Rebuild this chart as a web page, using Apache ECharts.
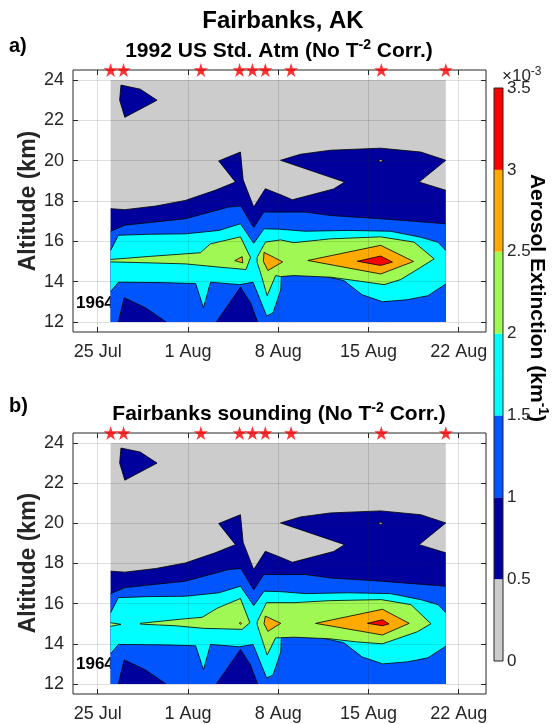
<!DOCTYPE html>
<html>
<head>
<meta charset="utf-8">
<script src="https://cdn.jsdelivr.net/npm/echarts@6/dist/echarts.min.js"></script>
<style>
html, body { margin: 0; padding: 0; background: #fff; }
#chart { width: 553px; height: 724px; }
</style>
</head>
<body>
<div id="chart"></div>
<script>
var chart = echarts.init(document.getElementById('chart'));

// dates are counted as days of July (32 = 1 Aug)
var dateTicks = [25, 32, 39, 46, 53];
var dateLabels = ['25 Jul', '1 Aug', '8 Aug', '15 Aug', '22 Aug'];
var altTicks = [12, 14, 16, 18, 20, 22, 24];
var obsDays = [26, 27, 33, 36, 37, 38, 40, 47, 52];
var levels = [0, 0.5, 1, 1.5, 2, 2.5, 3, 3.5];
var levelColors = ['#cccccc', '#00009c', '#0055ff', '#00ffff', '#a0f852', '#ffaa00', '#ff0000'];
var dayRange = [26, 52];
var altRange = [12, 24];

// contour regions: [day, km]
var grayBox = [[26, 12], [26, 24], [52, 24], [52, 12]];
var darkCap = [[26.7, 23.0], [26.8, 23.75], [28.3, 23.55], [29.6, 23.0], [27.1, 22.15]];
var darkMain = [[26, 12], [26, 17.62], [27.1, 17.57], [29.5, 17.75], [31.8, 18.03], [34.1, 18.53], [35.68, 18.94],
  [34.38, 19.99], [36.07, 20.43], [36.28, 19.05], [37.1, 17.7], [38.0, 18.61], [39.3, 18.28], [40.1, 18.06],
  [43.3, 18.6], [44.15, 18.94], [39.18, 20.02], [40.73, 20.32], [43.06, 20.52], [46.95, 20.62], [50.06, 20.43],
  [52, 20.02], [49.93, 18.94], [52, 18.53], [52, 12]];
var darkHole = [[46.75, 20.0], [46.95, 20.06], [47.15, 20.0], [46.95, 19.94]];
var blueBand = [[26, 12], [26.6, 12], [27.05, 13.2], [28.7, 12.7], [30.3, 12], [34.2, 12], [36.07, 13.72],
  [36.85, 12.95], [37.4, 12], [52, 12], [52, 16.87], [46.95, 17.12], [43.06, 17.28], [41.1, 17.45], [37.88, 17.45],
  [37.1, 16.68], [36.1, 17.75], [35.16, 17.7], [31.8, 17.12], [27.1, 16.8], [26, 16.5]];
var cyanBand = [[26, 15.55], [26.6, 16.3], [29, 16.35], [31.8, 16.37], [34.4, 16.54], [36.07, 16.87], [37.1, 15.9],
  [37.9, 16.62], [39.1, 16.6], [41.1, 16.5], [44.4, 16.54], [47.7, 16.5], [50.06, 16.2], [51.4, 15.95], [52, 15.55],
  [52, 13.88], [50.6, 13.3], [49, 13.1], [47.1, 13.0], [45.5, 13.35], [44.1, 14.05], [42, 14.35], [39.25, 14.38],
  [39.2, 13.6], [38.6, 12.45], [38.1, 12.3], [37.05, 13.97], [36.0, 13.85], [33.75, 13.97], [33.2, 12.7],
  [32.6, 13.9], [30, 13.95], [26.6, 13.97], [26, 13.5]];

// panel a
var greenWestA = [[26, 15.1], [29, 15.25], [31.8, 15.38], [32.96, 15.43], [33.73, 15.87], [36.07, 16.22], [36.85, 15.2],
  [36.5, 14.6], [34.4, 14.72], [31.8, 14.88], [29, 14.93], [26, 14.98]];
var greenEastA = [[37.36, 15.2], [38.01, 15.96], [39.18, 16.07], [40.2, 15.93], [43, 16.12], [46.95, 16.22],
  [49.54, 15.96], [51.1, 15.13], [50.06, 14.71], [48.5, 14.1], [47.21, 13.85], [45, 14.05], [43.06, 14.22],
  [40.21, 14.3], [39.2, 14.25], [38.8, 14.3], [38.14, 13.3], [37.6, 14.5], [37.36, 14.96]];
var orangeWestA = [[35.63, 15.04], [36.2, 15.24], [36.25, 14.93]];
var orangeMidA = [[37.9, 15.45], [39.35, 14.98], [38.2, 14.55], [37.85, 15.0]];
var orangeEastA = [[41.3, 15.05], [46.95, 15.8], [49.5, 15.0], [46.95, 14.38]];
var redA = [[45.14, 15.01], [46.95, 15.27], [47.86, 14.97], [46.95, 14.8]];

// panel b
var greenTipB = [[26, 15.05], [26.8, 14.97], [26, 14.87]];
var greenWestB = [[28.3, 15.02], [31.8, 15.25], [33.1, 15.32], [34.26, 15.77], [36.07, 16.26], [36.8, 15.05],
  [36.2, 14.72], [33.22, 14.77], [31, 14.9], [28.3, 14.98]];
var greenEastB = [[37.37, 15.1], [38.09, 16.05], [40.22, 16.05], [43, 16.15], [47, 16.2], [49.3, 15.95], [50.85, 15.0],
  [49.8, 14.6], [47.09, 14.0], [45, 14.1], [43, 14.25], [40.22, 14.33], [39.2, 14.3], [38.8, 14.3], [38.14, 13.44],
  [37.6, 14.5], [37.37, 14.95]];
var orangeDotB = [[35.98, 15.03], [36.08, 15.07], [36.16, 15.01], [36.06, 14.97]];
var orangeMidB = [[38.0, 15.38], [39.2, 15.02], [38.2, 14.62], [37.9, 15.0]];
var orangeEastB = [[41.9, 15.02], [47.09, 15.72], [49.16, 15.02], [47.09, 14.44]];
var redB = [[45.92, 15.02], [47.09, 15.2], [47.6, 14.99], [47.09, 14.9]];

var layersA = [[0, grayBox], [1, darkCap], [1, darkMain], [0, darkHole], [2, blueBand], [3, cyanBand],
  [4, greenWestA], [4, greenEastA], [5, orangeWestA], [5, orangeMidA], [5, orangeEastA], [6, redA]];
var layersB = [[0, grayBox], [1, darkCap], [1, darkMain], [0, darkHole], [2, blueBand], [3, cyanBand],
  [4, greenTipB], [4, greenWestB], [4, greenEastB], [5, orangeDotB], [5, orangeMidB], [5, orangeEastB], [6, redB]];

var FONT = 'Liberation Sans, Arial, sans-serif';
var INK = '#262626';

function onEdge(a, b) {
  if (a[0] === b[0] && (a[0] === dayRange[0] || a[0] === dayRange[1])) return true;
  if (a[1] === b[1] && (a[1] === altRange[0] || a[1] === altRange[1])) return true;
  return false;
}

function contourRender(layers) {
  return function (params, api) {
    var layer = layers[params.dataIndex];
    var poly = layer[1];
    var pts = poly.map(function (p) { return api.coord(p); });
    var children = [{
      type: 'polygon',
      shape: { points: pts },
      style: { fill: levelColors[layer[0]], stroke: null }
    }];
    // contour lines, but not along the edge of the data
    var runs = [], run = [];
    for (var i = 0; i < poly.length; i++) {
      var j = (i + 1) % poly.length;
      if (onEdge(poly[i], poly[j])) {
        if (run.length > 1) runs.push(run);
        run = [];
        continue;
      }
      if (!run.length) run.push(pts[i]);
      run.push(pts[j]);
    }
    if (run.length > 1) runs.push(run);
    runs.forEach(function (r) {
      children.push({
        type: 'polyline',
        shape: { points: r },
        style: { fill: null, stroke: '#000', lineWidth: 0.8, lineJoin: 'round' }
      });
    });
    return { type: 'group', children: children };
  };
}

function dateAxis(grid, pos) {
  return {
    type: 'value', gridIndex: grid, position: pos, min: 23.08, max: 55.12, z: 3,
    axisLine: { show: false },
    axisTick: { show: true, inside: true, length: 5, customValues: dateTicks, lineStyle: { color: INK } },
    axisLabel: {
      show: pos === 'bottom', customValues: dateTicks, margin: 11,
      color: INK, fontSize: 18, fontFamily: FONT,
      formatter: function (v) { return dateLabels[dateTicks.indexOf(v)]; }
    },
    splitLine: { show: pos === 'bottom', lineStyle: { color: 'rgba(38,38,38,0.15)', width: 1 } }
  };
}

function altAxis(grid, pos) {
  return {
    type: 'value', gridIndex: grid, position: pos, min: 11.5, max: 24.5, z: 3,
    axisLine: { show: false },
    axisTick: { show: true, inside: true, length: 5, customValues: altTicks, lineStyle: { color: INK } },
    axisLabel: { show: pos === 'left', customValues: altTicks, margin: 9, color: INK, fontSize: 18, fontFamily: FONT },
    splitLine: { show: pos === 'left', lineStyle: { color: 'rgba(38,38,38,0.15)', width: 1 } }
  };
}

var starPath = 'path://M50,0 L61.2,34.5 L97.6,34.5 L68.2,55.9 L79.4,90.5 L50,69.1 L20.6,90.5 L31.8,55.9 L2.4,34.5 L38.8,34.5 Z';

function starSeries(xi, yi) {
  return {
    type: 'scatter', xAxisIndex: xi, yAxisIndex: yi, z: 5, clip: false,
    symbol: starPath, symbolSize: 14,
    itemStyle: { color: '#ff0000' },
    data: obsDays.map(function (d) { return [d, 24.5]; })
  };
}

function contourSeries(xi, yi, layers) {
  return {
    type: 'custom', xAxisIndex: xi, yAxisIndex: yi, z: 2,
    renderItem: contourRender(layers),
    data: layers.map(function (l) { return l[1][0]; })
  };
}

function titleText(x, y, main, tail) {
  return {
    type: 'text', x: x, y: y,
    style: {
      text: '{m|' + main + '}{s|-2}{m|' + tail + '}',
      align: 'center', verticalAlign: 'middle',
      rich: {
        m: { fontSize: 21, fontWeight: 'bold', fontFamily: FONT, fill: '#000', lineHeight: 26 },
        s: { fontSize: 14, fontWeight: 'bold', fontFamily: FONT, fill: '#000', lineHeight: 14, verticalAlign: 'top' }
      }
    }
  };
}

function plainText(x, y, text, size) {
  return {
    type: 'text', x: x, y: y,
    style: { text: text, fontSize: size, fontWeight: 'bold', fontFamily: FONT, fill: '#000', align: 'left', verticalAlign: 'middle' }
  };
}

function sideLabel(y) {
  return {
    type: 'text', x: 29, y: y, rotation: Math.PI / 2,
    style: { text: 'Altitude (km)', fontSize: 23, fontWeight: 'bold', fontFamily: FONT, fill: INK, align: 'center', verticalAlign: 'middle' }
  };
}

var option = {
  animation: false,
  backgroundColor: '#fff',
  grid: [
    { left: 73, top: 70, width: 413, height: 262, show: true, borderColor: INK, borderWidth: 1, z: 4 },
    { left: 73, top: 433, width: 413, height: 261, show: true, borderColor: INK, borderWidth: 1, z: 4 },
    { left: 494, top: 88, width: 9, height: 573, show: true, borderColor: INK, borderWidth: 1, z: 4 }
  ],
  xAxis: [
    dateAxis(0, 'bottom'), dateAxis(0, 'top'), dateAxis(1, 'bottom'), dateAxis(1, 'top'),
    { type: 'value', gridIndex: 2, min: 0, max: 1, show: false }
  ],
  yAxis: [
    altAxis(0, 'left'), altAxis(0, 'right'), altAxis(1, 'left'), altAxis(1, 'right'),
    {
      type: 'value', gridIndex: 2, position: 'right', min: 0, max: 3.5, interval: 0.5,
      axisLine: { show: false }, axisTick: { show: false }, splitLine: { show: false },
      axisLabel: { margin: 4, color: INK, fontSize: 17, fontFamily: FONT }
    }
  ],
  series: [
    contourSeries(0, 0, layersA),
    starSeries(0, 0),
    contourSeries(2, 2, layersB),
    starSeries(2, 2),
    {
      type: 'custom', xAxisIndex: 4, yAxisIndex: 4,
      data: levelColors.map(function (c, i) { return [0, levels[i]]; }),
      renderItem: function (params, api) {
        var i = params.dataIndex;
        var p0 = api.coord([0, levels[i]]);
        var p1 = api.coord([1, levels[i + 1]]);
        return {
          type: 'rect',
          shape: { x: p0[0], y: p1[1], width: p1[0] - p0[0], height: p0[1] - p1[1] },
          style: { fill: levelColors[i] }
        };
      }
    }
  ],
  graphic: {
    elements: [
      { type: 'text', x: 283, y: 21, style: { text: 'Fairbanks, AK', fontSize: 24, fontWeight: 'bold', fontFamily: FONT, fill: '#000', align: 'center', verticalAlign: 'middle' } },
      plainText(9, 46, 'a)', 20),
      plainText(9, 406, 'b)', 20),
      titleText(279, 51, '1992 US Std. Atm (No T', ' Corr.)'),
      titleText(279, 414, 'Fairbanks sounding (No T', ' Corr.)'),
      plainText(76, 303, '1964', 17),
      plainText(76, 664, '1964', 17),
      sideLabel(201),
      sideLabel(563),
      {
        type: 'text', x: 502, y: 76,
        style: {
          text: '{m|\u00d710}{s|-3}', align: 'left', verticalAlign: 'middle',
          rich: {
            m: { fontSize: 17, fontFamily: FONT, fill: INK, lineHeight: 20 },
            s: { fontSize: 12, fontFamily: FONT, fill: INK, lineHeight: 12, verticalAlign: 'top' }
          }
        }
      },
      {
        type: 'text', x: 537, y: 298, rotation: -Math.PI / 2,
        style: {
          text: '{m|Aerosol Extinction (km}{s|-1}{m|)}', align: 'center', verticalAlign: 'middle',
          rich: {
            m: { fontSize: 21, fontWeight: 'bold', fontFamily: FONT, fill: '#000', lineHeight: 25 },
            s: { fontSize: 14, fontWeight: 'bold', fontFamily: FONT, fill: '#000', lineHeight: 14, verticalAlign: 'top' }
          }
        }
      }
    ]
  }
};

chart.setOption(option);
</script>
</body>
</html>
